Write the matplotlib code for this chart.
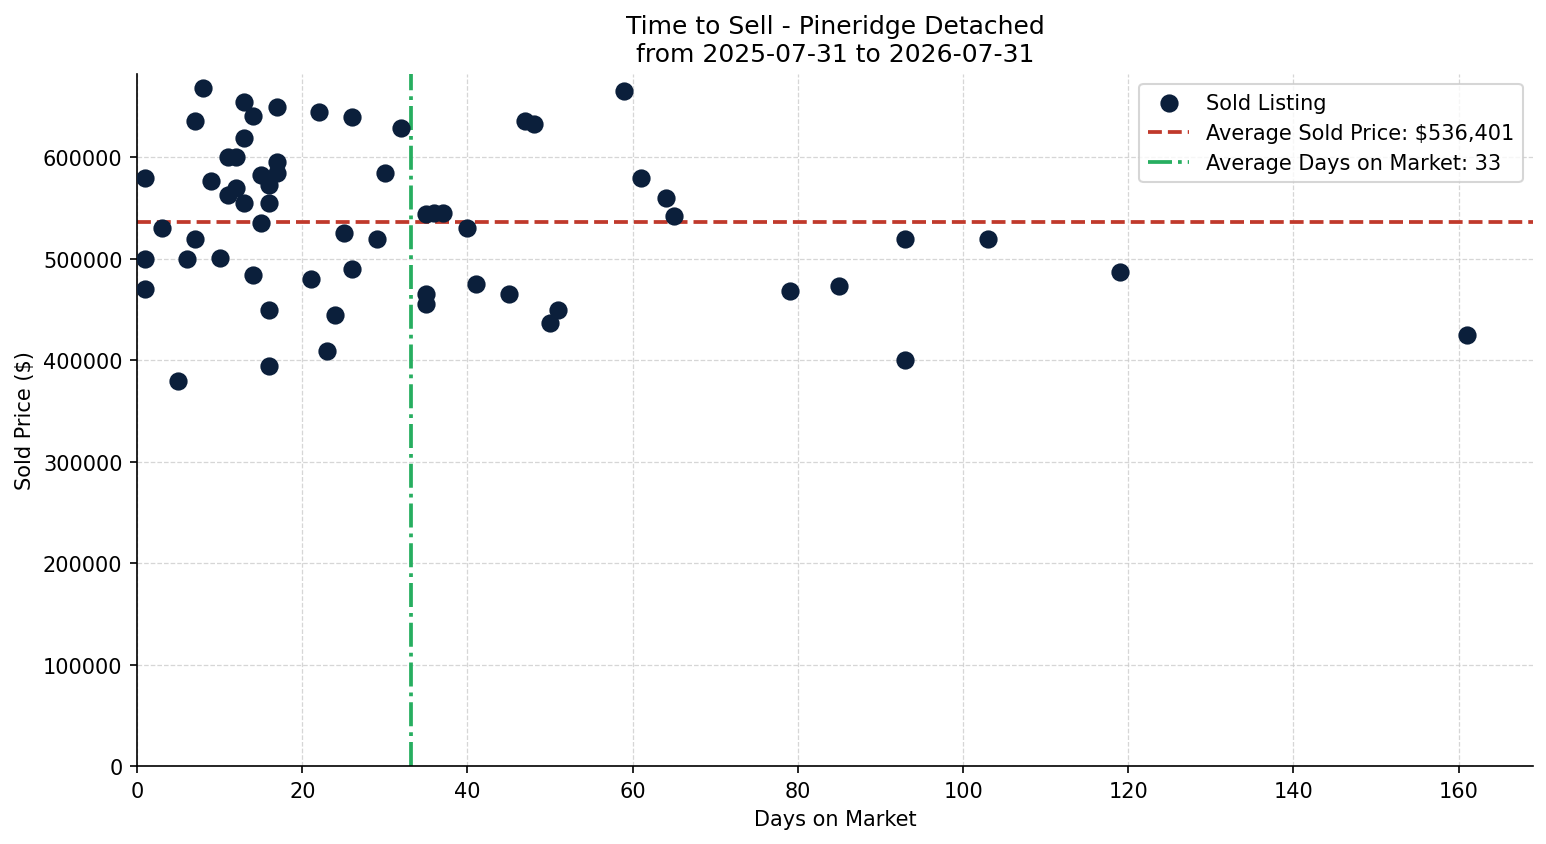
import matplotlib
matplotlib.use("Agg")
import matplotlib.pyplot as plt
import numpy as np

# days on market and sold price for each listing
days = [1, 1, 1, 3, 5, 6, 7, 7, 8, 9, 10, 11, 11, 12, 12, 13, 13, 13,
        14, 14, 15, 15, 16, 16, 16, 16, 17, 17, 17, 21, 22, 23, 24, 25,
        26, 26, 29, 30, 32, 35, 35, 35, 36, 37, 40, 41, 45, 47, 48, 50,
        51, 59, 61, 64, 65, 79, 85, 93, 93, 103, 119, 161]
prices = [580000, 500000, 470000, 530000, 380000, 500000, 636000, 520000,
          668000, 577000, 501000, 600000, 563000, 600000, 570000, 655000,
          619000, 555000, 641000, 484000, 583000, 535000, 573000, 555000,
          450000, 394000, 650000, 595000, 585000, 480000, 645000, 409000,
          445000, 525000, 640000, 490000, 520000, 585000, 629000, 544000,
          465000, 455000, 545000, 545000, 530000, 475000, 465000, 636000,
          633000, 437000, 450000, 665000, 580000, 560000, 542000, 468000,
          473000, 520000, 400000, 520000, 487000, 425000]

avg_price = 536401
avg_days = np.mean(days)

fig, ax = plt.subplots(figsize=(10.313, 5.633), dpi=150)
fig.subplots_adjust(left=0.0886, right=0.991, bottom=0.0923, top=0.9115)

ax.scatter(days, prices, s=60, color="#0b1f3b", label="Sold Listing", zorder=3)
ax.axhline(avg_price, color="#c0392b", linestyle="--", linewidth=1.8,
           label=f"Average Sold Price: ${avg_price:,.0f}")
ax.axvline(avg_days, color="#27ae60", linestyle="-.", linewidth=1.8,
           label=f"Average Days on Market: {avg_days:.0f}")

ax.set_xlim(left=0)
ax.set_ylim(bottom=0)
ax.grid(True, linestyle="--", linewidth=0.6, color="#cccccc", alpha=0.8)
ax.set_axisbelow(True)
ax.spines["top"].set_visible(False)
ax.spines["right"].set_visible(False)

ax.set_title("Time to Sell - Pineridge Detached\nfrom 2025-07-31 to 2026-07-31")
ax.set_xlabel("Days on Market")
ax.set_ylabel("Sold Price ($)")
ax.legend(loc="upper right")

fig.savefig("out.png", dpi=150)
